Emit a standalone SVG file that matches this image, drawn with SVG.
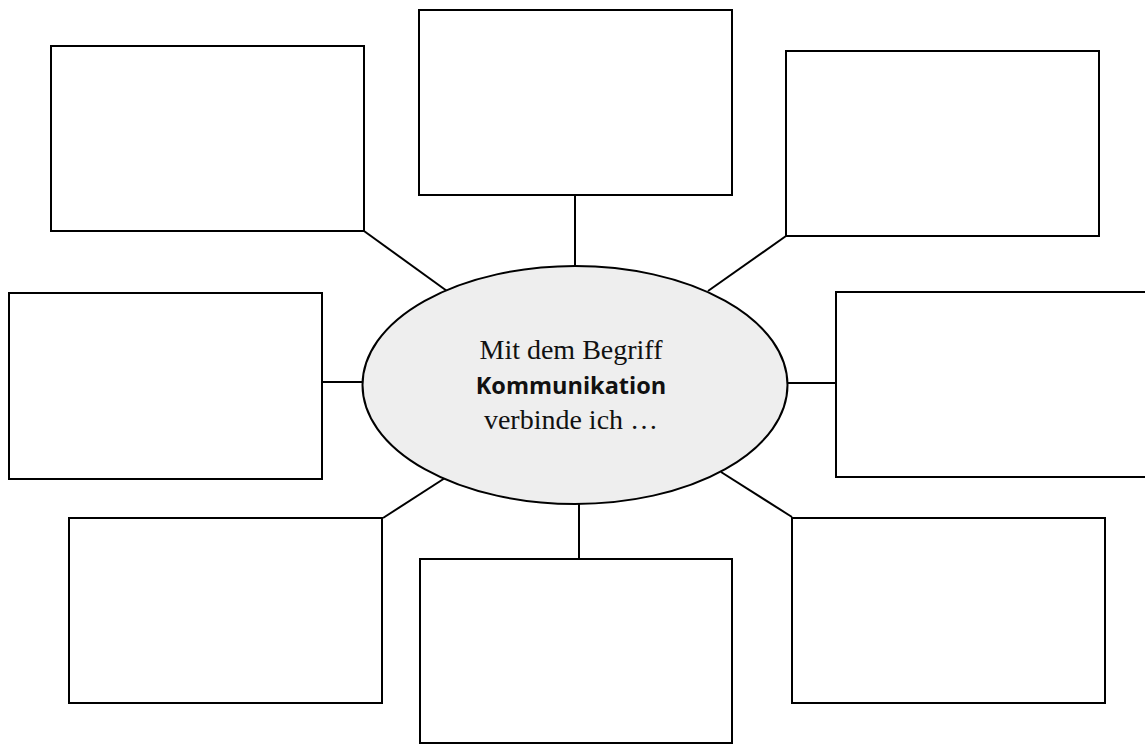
<svg xmlns="http://www.w3.org/2000/svg" width="1145" height="744" viewBox="0 0 1145 744">
  <style>
    .box { fill: #ffffff; stroke: #000000; stroke-width: 2; }
    .conn { stroke: #000000; stroke-width: 2; fill: none; }
    .center { fill: #eeeeee; stroke: #000000; stroke-width: 2; }
    .serif { font-family: "Liberation Serif", "DejaVu Serif", serif; font-size: 28px; fill: #111111; }
    .bold { font-family: "Open Sans", "Liberation Sans", sans-serif; font-weight: 700; font-size: 23.5px; fill: #111111; }
  </style>
  <rect width="1145" height="744" fill="#ffffff"/>
  <g id="connectors">
    <line class="conn" x1="364" y1="231" x2="447" y2="291"/>
    <line class="conn" x1="575" y1="195" x2="575" y2="266"/>
    <line class="conn" x1="786" y1="236" x2="708" y2="291"/>
    <line class="conn" x1="322" y1="382" x2="363" y2="382"/>
    <line class="conn" x1="787" y1="383" x2="836" y2="383"/>
    <line class="conn" x1="383" y1="518" x2="445" y2="478"/>
    <line class="conn" x1="579" y1="504" x2="579" y2="559"/>
    <line class="conn" x1="792" y1="517" x2="721" y2="472"/>
  </g>
  <g id="box-top-left"><rect class="box" x="51" y="46" width="313" height="185"/></g>
  <g id="box-top"><rect class="box" x="419" y="10" width="313" height="185"/></g>
  <g id="box-top-right"><rect class="box" x="786" y="51" width="313" height="185"/></g>
  <g id="box-mid-left"><rect class="box" x="9" y="293" width="313" height="186"/></g>
  <g id="box-mid-right"><rect class="box" x="836" y="292" width="320" height="185"/></g>
  <g id="box-bottom-left"><rect class="box" x="69" y="518" width="313" height="185"/></g>
  <g id="box-bottom"><rect class="box" x="420" y="559" width="312" height="184"/></g>
  <g id="box-bottom-right"><rect class="box" x="792" y="518" width="313" height="185"/></g>
  <g id="center">
    <ellipse class="center" cx="575" cy="385" rx="212.5" ry="119"/>
    <text class="serif" x="571" y="359" text-anchor="middle">Mit dem Begriff</text>
    <text class="bold" x="571" y="394" text-anchor="middle">Kommunikation</text>
    <text class="serif" x="571" y="429" text-anchor="middle">verbinde ich …</text>
  </g>
</svg>
